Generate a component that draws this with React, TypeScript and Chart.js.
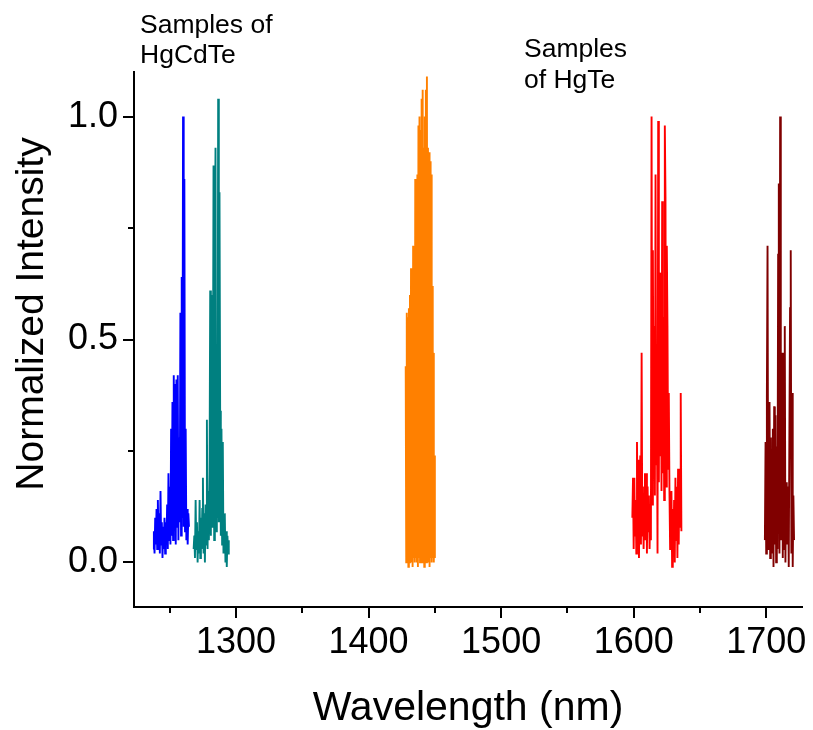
import React, { useEffect, useRef } from "react";
import { Chart, registerables } from "chart.js";

Chart.register(...registerables);

// ---- data (normalized PL spectra) ----
const hgcdteAStart = 1237.5;
const hgcdteAStep = 0.5;
const hgcdteAValues = [
  0.03, 0.07, 0.02, 0.10, 0.04, 0.12, 0.03, 0.14, 0.05, 0.11,
  0.02, 0.16, 0.04, 0.09, 0.01, 0.08, 0.03, 0.10, 0.02, 0.09,
  0.04, 0.13, 0.03, 0.20, 0.05, 0.17, 0.04, 0.30, 0.06, 0.36,
  0.05, 0.42, 0.07, 0.40, 0.04, 0.41, 0.08, 0.42, 0.05, 0.28,
  0.09, 0.56, 0.06, 0.64, 0.10, 1.00, 0.08, 0.86, 0.07, 0.30,
  0.05, 0.12, 0.04, 0.11, 0.08,
];

const hgcdteBStart = 1268;
const hgcdteBStep = 0.5;
const hgcdteBValues = [
  0.03, 0.06, 0.01, 0.14, 0.03, 0.09, 0.00, 0.07, 0.02, 0.14,
  0.01, 0.10, 0.03, 0.12, 0.19, 0.02, 0.11, 0.00, 0.13, 0.04,
  0.32, 0.03, 0.16, 0.05, 0.20, 0.61, 0.06, 0.60, 0.08, 0.30,
  0.89, 0.05, 0.67, 0.93, 0.07, 0.35, 0.10, 1.04, 0.09, 0.83,
  0.34, 0.06, 0.30, 0.04, 0.27, 0.02, 0.09, 0.11, 0.00, 0.07,
  -0.01, 0.06, 0.02, 0.05,
];

const hgteAStart = 1428;
const hgteAStep = 0.4;
const hgteAValues = [
  0.44, 0.00, 0.56, 0.01, 0.55, -0.01, 0.57, 0.00, 0.60, 0.01,
  0.66, 0.00, 0.62, -0.01, 0.71, 0.01, 0.68, 0.00, 0.86, 0.01,
  0.85, 0.00, 0.87, -0.01, 0.98, 0.01, 1.00, 0.00, 0.97, 0.01,
  1.04, 0.00, 1.06, 0.01, 0.93, -0.01, 1.00, 0.01, 1.06, 0.00,
  1.09, 0.01, 0.93, 0.00, 0.92, -0.01, 0.90, 0.01, 0.87, 0.00,
  0.62, 0.01, 0.47, 0.00, 0.24, 0.01,
];

const hgteBStart = 1599;
const hgteBStep = 0.5;
const hgteBValues = [
  0.10, 0.19, 0.03, 0.19, 0.06, 0.14, 0.02, 0.27, 0.08, 0.23,
  0.01, 0.15, 0.24, 0.04, 0.47, 0.06, 0.17, 0.03, 0.15, 0.20,
  0.05, 0.20, 0.02, 0.17, 0.07, 0.15, 0.03, 0.12, 0.05, 1.00,
  0.13, 0.70, 0.20, 0.53, 0.15, 0.87, 0.22, 0.38, 0.02, 0.99,
  0.18, 0.65, 0.24, 0.65, 0.16, 0.81, 0.20, 0.55, 0.14, 0.98,
  0.82, 0.17, 0.71, 0.53, 0.21, 0.38, 0.16, 0.03, 0.14, 0.16,
  -0.01, 0.12, 0.02, 0.14, 0.00, 0.19, 0.05, 0.17, 0.01, 0.21,
  0.04, 0.21, 0.08, 0.38, 0.07,
];

const hgteCStart = 1699;
const hgteCStep = 0.5;
const hgteCValues = [
  0.05, 0.27, 0.02, 0.37, 0.71, 0.03, 0.25, 0.36, 0.01, 0.28,
  0.02, 0.20, 0.30, -0.01, 0.35, 0.04, 0.33, 0.00, 0.26, 0.03,
  0.69, 0.85, 0.02, 1.00, 0.05, 0.38, 0.47, 0.01, 0.47, 0.03,
  0.53, 0.00, 0.18, 0.04, 0.12, 0.17, -0.01, 0.30, 0.57, 0.70,
  0.02, 0.38, -0.01, 0.15, 0.05,
];

const seriesColors = ["#0000ff", "#008080", "#ff8000", "#ff0000", "#800000"];

const xMajorTicks = [1300, 1400, 1500, 1600, 1700];
const xMinorTicks = [1250, 1350, 1450, 1550, 1650];
const yMajorTicks = [0, 0.5, 1.0];
const yMinorTicks = [0.25, 0.75];
const xRange = [1223, 1727];
const yRange = [-0.1, 1.1];

const xTitle = "Wavelength (nm)";
const yTitle = "Normalized Intensity";
const noteLeft = ["Samples of", "HgCdTe"];
const noteRight = ["Samples", "of HgTe"];

const FONT = 'Arial, "Liberation Sans", sans-serif';

function toPoints(start: number, step: number, values: number[]) {
  return values.map((v, i) => ({ x: +(start + i * step).toFixed(2), y: v }));
}

const decorPlugin = {
  id: "decor",
  afterDraw(chart: any) {
    const ctx = chart.ctx as CanvasRenderingContext2D;
    const xs = chart.scales.x;
    const ys = chart.scales.y;
    const area = chart.chartArea;
    ctx.save();
    ctx.strokeStyle = "#000";
    ctx.lineWidth = 2;
    ctx.beginPath();
    for (const v of xMajorTicks) {
      const p = Math.round(xs.getPixelForValue(v));
      ctx.moveTo(p, area.bottom);
      ctx.lineTo(p, area.bottom + 11);
    }
    for (const v of xMinorTicks) {
      const p = Math.round(xs.getPixelForValue(v));
      ctx.moveTo(p, area.bottom);
      ctx.lineTo(p, area.bottom + 6);
    }
    for (const v of yMajorTicks) {
      const p = Math.round(ys.getPixelForValue(v));
      ctx.moveTo(area.left, p);
      ctx.lineTo(area.left - 11, p);
    }
    for (const v of yMinorTicks) {
      const p = Math.round(ys.getPixelForValue(v));
      ctx.moveTo(area.left, p);
      ctx.lineTo(area.left - 6, p);
    }
    ctx.stroke();

    ctx.fillStyle = "#000";
    ctx.font = `41px ${FONT}`;
    ctx.textAlign = "center";
    ctx.textBaseline = "alphabetic";
    ctx.fillText(xTitle, (area.left + area.right) / 2, 720);

    ctx.save();
    ctx.translate(43, 314);
    ctx.rotate(-Math.PI / 2);
    ctx.font = `39px ${FONT}`;
    ctx.fillText(yTitle, 0, 0);
    ctx.restore();

    ctx.font = `26.5px ${FONT}`;
    ctx.textAlign = "left";
    ctx.fillText(noteLeft[0], 140, 33);
    ctx.fillText(noteLeft[1], 140, 63);
    ctx.fillText(noteRight[0], 524, 57);
    ctx.fillText(noteRight[1], 524, 88);
    ctx.restore();
  },
};

export default function App() {
  const ref = useRef<HTMLCanvasElement>(null);
  useEffect(() => {
    document.body.style.margin = "0";
    const series = [
      toPoints(hgcdteAStart, hgcdteAStep, hgcdteAValues),
      toPoints(hgcdteBStart, hgcdteBStep, hgcdteBValues),
      toPoints(hgteAStart, hgteAStep, hgteAValues),
      toPoints(hgteBStart, hgteBStep, hgteBValues),
      toPoints(hgteCStart, hgteCStep, hgteCValues),
    ];
    const chart = new Chart(ref.current!, {
      type: "line",
      data: {
        datasets: series.map((d, i) => ({
          data: d,
          borderColor: seriesColors[i],
          backgroundColor: seriesColors[i],
          borderWidth: 1.9,
          pointRadius: 0,
          tension: 0,
          fill: false,
        })),
      },
      options: {
        responsive: false,
        animation: false,
        devicePixelRatio: 1,
        layout: { padding: { top: 72, right: 11, left: 0, bottom: 0 } },
        plugins: { legend: { display: false }, tooltip: { enabled: false } },
        scales: {
          x: {
            type: "linear",
            min: xRange[0],
            max: xRange[1],
            afterFit: (s: any) => {
              s.height = 123;
              s.paddingLeft = 0;
              s.paddingRight = 0;
            },
            afterBuildTicks: (s: any) => {
              s.ticks = xMajorTicks.map((v) => ({ value: v }));
            },
            grid: { display: false, drawTicks: false },
            border: { display: true, color: "#000", width: 2 },
            ticks: {
              autoSkip: false,
              maxRotation: 0,
              padding: 14,
              color: "#000",
              font: { family: FONT, size: 36 },
              callback: (v: any) => String(v),
            },
          },
          y: {
            type: "linear",
            min: yRange[0],
            max: yRange[1],
            afterFit: (s: any) => {
              s.width = 134;
              s.paddingTop = 0;
              s.paddingBottom = 0;
            },
            afterBuildTicks: (s: any) => {
              s.ticks = yMajorTicks.map((v) => ({ value: v }));
            },
            grid: { display: false, drawTicks: false },
            border: { display: true, color: "#000", width: 2 },
            ticks: {
              autoSkip: false,
              padding: 16,
              color: "#000",
              font: { family: FONT, size: 36 },
              callback: (v: any) => Number(v).toFixed(1),
            },
          },
        },
      },
      plugins: [decorPlugin],
    });
    return () => chart.destroy();
  }, []);
  return (
    <div style={{ position: "fixed", left: 0, top: 0, width: 813, height: 730, background: "#fff" }}>
      <canvas ref={ref} width={813} height={730} style={{ width: 813, height: 730, display: "block" }} />
    </div>
  );
}
